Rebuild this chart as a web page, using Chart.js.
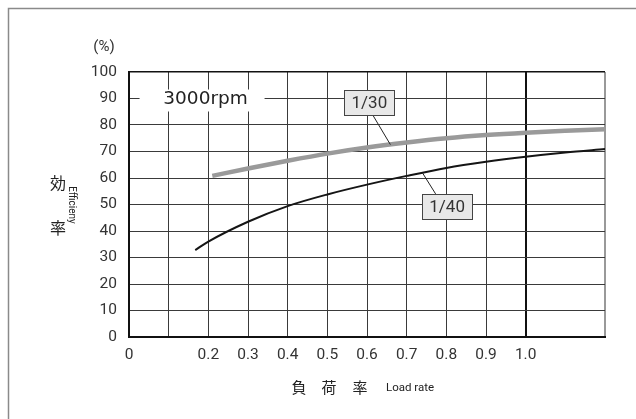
<!DOCTYPE html>
<html>
<head>
<meta charset="utf-8">
<style>
  html, body { margin: 0; padding: 0; background: #fff; }
  canvas { display: block; }
</style>
<script src="https://cdn.jsdelivr.net/npm/chart.js@4.4.1/dist/chart.umd.min.js"></script>
</head>
<body>
<canvas id="eff" width="636" height="419"></canvas>
<script>
// Efficiency curves at 3000rpm for two reduction ratios
const loadRate30 = [0.21, 0.3, 0.4, 0.5, 0.6, 0.7, 0.8, 0.9, 1.0, 1.1, 1.2];
const efficiency30 = [60.8, 63.6, 66.5, 69.2, 71.5, 73.4, 75.0, 76.2, 77.1, 77.8, 78.4];

const loadRate40 = [0.167, 0.2, 0.3, 0.4, 0.5, 0.6, 0.7, 0.8, 0.9, 1.0, 1.1, 1.2];
const efficiency40 = [32.8, 36.0, 43.5, 49.4, 53.8, 57.5, 60.8, 63.8, 66.1, 68.0, 69.6, 70.9];

// x tick labels, one per 0.1 step from 0 to 1.2
const xTickLabels = ['0', '', '0.2', '0.3', '0.4', '0.5', '0.6', '0.7', '0.8', '0.9', '1.0', '', ''];
const yTickLabels = ['0', '10', '20', '30', '40', '50', '60', '70', '80', '90', '100'];

// callouts: label, box centre (data units), leader start and end (data units)
const ratioLabels = ['1/30', '1/40'];
const labelCentres = [[0.606, 88.5], [0.802, 49.2]];
const leaderFrom = [[0.616, 83.4], [0.740, 61.9]];
const leaderTo = [[0.659, 72.6], [0.773, 54.0]];
const speedLabel = '3000rpm';
const speedLabelAt = [0.193, 90];

const toPairs = (xs, ys) => xs.map((x, i) => ({ x: x, y: ys[i] }));

const numFont = { family: 'Roboto, "Liberation Sans", sans-serif', size: 15.5 };

const annotate = {
  id: 'annotate',
  afterDraw(chart) {
    const c = chart.ctx;
    const xs = chart.scales.x, ys = chart.scales.y;
    const px = v => xs.getPixelForValue(v);
    const py = v => ys.getPixelForValue(v);
    c.save();

    // outer frame
    c.strokeStyle = '#8a8a8a';
    c.lineWidth = 1.5;
    c.beginPath();
    c.moveTo(8.5, 419);
    c.lineTo(8.5, 8.5);
    c.lineTo(636, 8.5);
    c.stroke();

    // speed label on a white patch
    const sx = px(speedLabelAt[0]), sy = py(speedLabelAt[1]);
    c.fillStyle = '#fff';
    c.fillRect(sx - 66, sy - 9, 125, 22);
    c.fillStyle = '#222';
    c.font = '18.5px "DejaVu Sans", sans-serif';
    c.textAlign = 'center';
    c.textBaseline = 'middle';
    c.fillText(speedLabel, sx, sy + 1);

    // ratio callouts
    ratioLabels.forEach((txt, i) => {
      c.strokeStyle = '#222';
      c.lineWidth = 1;
      c.beginPath();
      c.moveTo(px(leaderFrom[i][0]), py(leaderFrom[i][1]));
      c.lineTo(px(leaderTo[i][0]), py(leaderTo[i][1]));
      c.stroke();
      const cx = px(labelCentres[i][0]), cy = py(labelCentres[i][1]);
      const w = 50, h = 25;
      c.fillStyle = '#e8e8e8';
      c.fillRect(cx - w / 2, cy - h / 2, w, h);
      c.strokeStyle = '#444';
      c.lineWidth = 1;
      c.strokeRect(Math.round(cx - w / 2) + 0.5, Math.round(cy - h / 2) + 0.5, w, h);
      c.fillStyle = '#333';
      c.font = '17px Roboto, sans-serif';
      c.textAlign = 'center';
      c.textBaseline = 'middle';
      c.fillText(txt, cx, cy + 1);
    });

    // unit above the y axis
    c.fillStyle = '#333';
    c.font = '15px Roboto, sans-serif';
    c.textAlign = 'center';
    c.fillText('(%)', 104, 47);

    // y axis title
    c.font = '16px "Noto Sans CJK JP", sans-serif';
    c.fillStyle = '#222';
    c.fillText('効', 58, 183);
    c.fillText('率', 58, 228);
    c.save();
    c.translate(71, 205);
    c.rotate(Math.PI / 2);
    c.font = '10px Roboto, sans-serif';
    c.fillText('Efficieny', 0, 0);
    c.restore();

    // x axis title
    c.font = '15px "Noto Sans CJK JP", sans-serif';
    c.fillText('負', 299, 387);
    c.fillText('荷', 329, 387);
    c.fillText('率', 360, 387);
    c.font = '11.5px Roboto, sans-serif';
    c.textAlign = 'left';
    c.fillText('Load rate', 386, 388);
    c.restore();
  }
};

new Chart(document.getElementById('eff'), {
  type: 'line',
  data: {
    datasets: [
      {
        label: '1/30',
        data: toPairs(loadRate30, efficiency30),
        borderColor: '#9a9a9a',
        borderWidth: 4.5,
        pointRadius: 0,
        cubicInterpolationMode: 'monotone',
        borderCapStyle: 'butt'
      },
      {
        label: '1/40',
        data: toPairs(loadRate40, efficiency40),
        borderColor: '#151515',
        borderWidth: 2,
        pointRadius: 0,
        cubicInterpolationMode: 'monotone'
      }
    ]
  },
  options: {
    responsive: false,
    animation: false,
    devicePixelRatio: 1,
    layout: { padding: { top: 72, right: 31, left: 0, bottom: 0 } },
    plugins: { legend: { display: false }, tooltip: { enabled: false } },
    scales: {
      x: {
        type: 'linear',
        min: 0,
        max: 1.2,
        afterFit: s => { s.height = 82; },
        afterBuildTicks: s => {
          s.ticks = xTickLabels.map((_, i) => ({ value: i / 10 }));
        },
        ticks: {
          autoSkip: false,
          maxRotation: 0,
          padding: 9,
          color: '#333',
          font: numFont,
          callback: (v, i) => xTickLabels[Math.round(v * 10)]
        },
        grid: {
          drawTicks: false,
          color: ctx => {
            const k = Math.round(ctx.tick.value * 10);
            if (k === 11) return 'rgba(0,0,0,0)';
            if (k === 10) return '#111';
            if (k === 12) return '#999';
            return '#3a3a3a';
          },
          lineWidth: ctx => {
            const k = Math.round(ctx.tick.value * 10);
            return (k === 10 || k === 12) ? 2 : 1;
          }
        },
        border: { display: true, color: '#111', width: 2 }
      },
      y: {
        min: 0,
        max: 100,
        afterFit: s => { s.width = 129; },
        ticks: {
          stepSize: 10,
          padding: 12,
          color: '#333',
          font: numFont,
          callback: v => yTickLabels[Math.round(v / 10)]
        },
        grid: {
          drawTicks: false,
          color: ctx => ctx.tick.value === 100 ? '#111' : '#3a3a3a',
          lineWidth: ctx => ctx.tick.value === 100 ? 1.5 : 1
        },
        border: { display: true, color: '#111', width: 2 }
      }
    }
  },
  plugins: [annotate]
});
</script>
</body>
</html>
